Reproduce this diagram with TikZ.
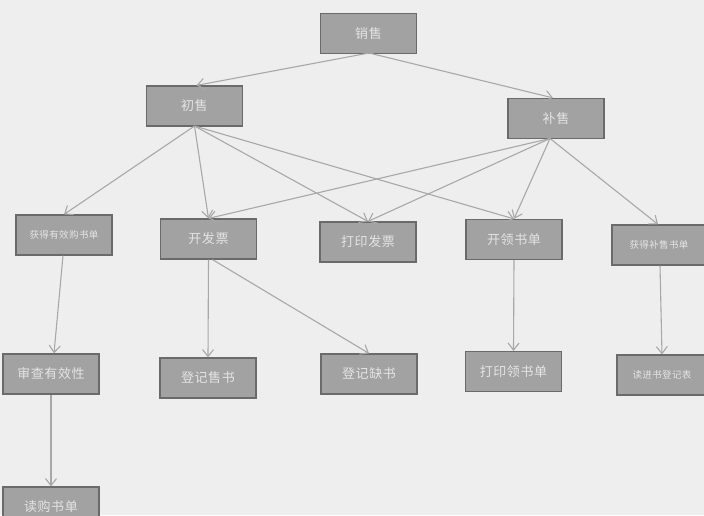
\documentclass[tikz,border=0pt]{standalone}
\usepackage{fontspec}
\newfontfamily\cjk{Noto Sans CJK SC}[LetterSpace=4]
\usetikzlibrary{arrows.meta}
\definecolor{bg}{HTML}{EEEEEE}
\definecolor{boxfill}{HTML}{A2A2A2}
\definecolor{boxline}{HTML}{6A6A6A}
\definecolor{edge}{HTML}{A8A8A8}
\definecolor{txt}{HTML}{E4E4E4}
\begin{document}
\begin{tikzpicture}[x=1pt,y=-1pt,
  box/.style={draw=boxline,line width=1.2pt,fill=boxfill,minimum width=96pt,minimum height=40pt,inner sep=0pt,text=txt,font=\cjk\fontsize{13}{15}\selectfont},
  sbox/.style={box,font=\cjk\fontsize{9.5}{11}\selectfont},
  arr/.style={draw=edge,line width=1.1pt,-{Straight Barb[length=7pt,width=11pt,line width=1.1pt]}}]
\fill[bg] (0,0) rectangle (704,515);
\useasboundingbox (0,0) rectangle (704,515);
\node[box] (xs) at (368.5,33.5) {销售};
\node[box] (cs) at (194.5,106) {初售};
\node[box] (bs) at (556,118.5) {补售};
\node[sbox] (hy) at (64,235) {获得有效购书单};
\node[box] (kf) at (208.5,239) {开发票};
\node[box] (dy) at (368,242) {打印发票};
\node[box] (kl) at (514,239.5) {开领书单};
\node[sbox,minimum width=94pt] (hb) at (659,245) {获得补售书单};
\node[box] (sc) at (51,374) {审查有效性};
\node[box] (dj) at (208,378) {登记售书};
\node[box] (dq) at (369,374) {登记缺书};
\node[box] (dl) at (513.5,371.5) {打印领书单};
\node[sbox,minimum width=90pt] (dr) at (662,375) {读进书登记表};
\node[box] (dg) at (51,507) {读购书单};
\coordinate (xsb) at (369,53);
\coordinate (csb) at (194.5,126);
\coordinate (bsb) at (550,138.5);
\draw[arr] (xsb) -- ([xshift=2pt]cs.north);
\draw[arr] (xsb) -- ([xshift=-3pt]bs.north);
\draw[arr] (csb) -- (hy.north);
\draw[arr] (csb) -- (kf.north);
\draw[arr] (csb) -- (dy.north);
\draw[arr] (csb) -- (kl.north);
\draw[arr] (bsb) -- (kf.north);
\draw[arr] (bsb) -- (dy.north);
\draw[arr] (bsb) -- (kl.north);
\draw[arr] (bsb) -- ([xshift=-1pt]hb.north);
\draw[arr] ([xshift=-1pt]hy.south) -- ([xshift=3pt]sc.north);
\draw[arr] (kf.south) -- (dj.north);
\draw[arr] ([xshift=4pt]kf.south) -- (dq.north);
\draw[arr] (kl.south) -- (dl.north);
\draw[arr] ([xshift=1pt]hb.south) -- (dr.north);
\draw[arr] (sc.south) -- (dg.north);
\end{tikzpicture}
\end{document}
